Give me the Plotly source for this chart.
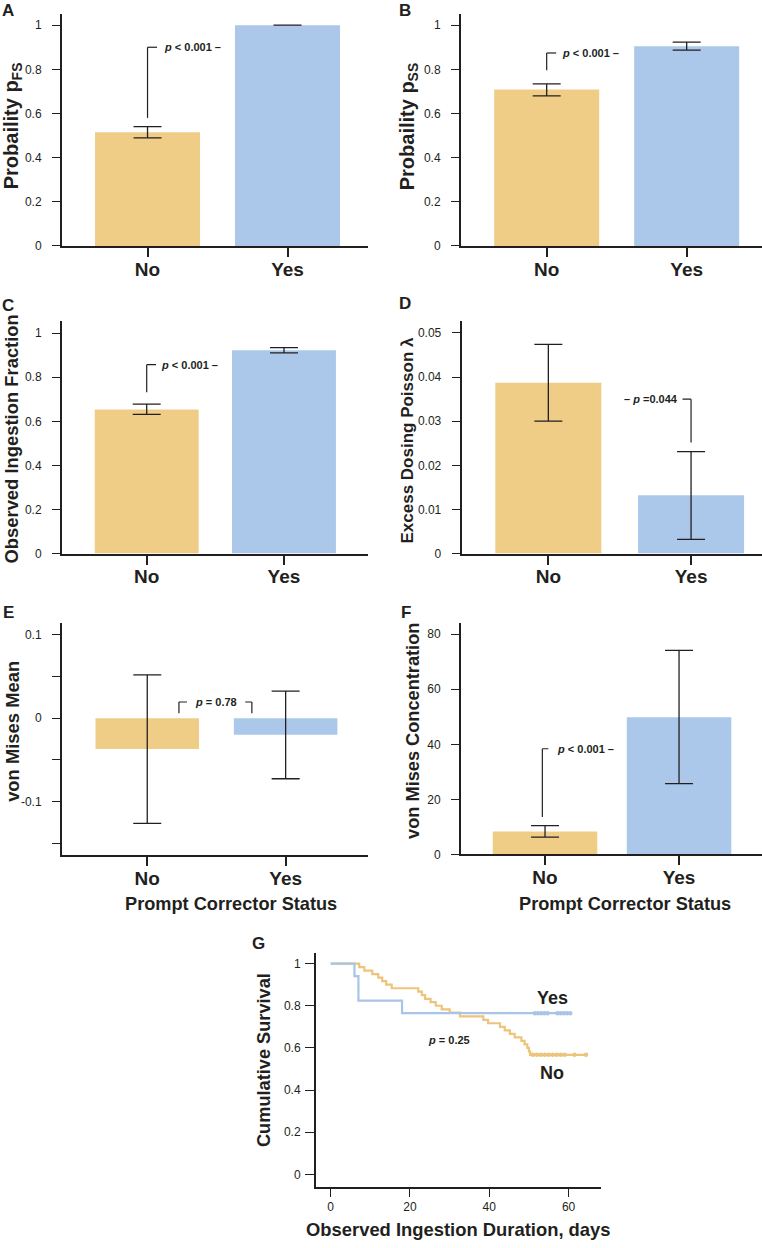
import plotly.graph_objects as go

# ---------------- data ----------------
cats = ["No", "Yes"]

pfs_mean = [0.515, 1.0]
pfs_lo = [0.489, 1.0]
pfs_hi = [0.540, 1.0]

pss_mean = [0.709, 0.904]
pss_lo = [0.680, 0.887]
pss_hi = [0.734, 0.923]

oif_mean = [0.654, 0.923]
oif_lo = [0.632, 0.911]
oif_hi = [0.678, 0.934]

pois_mean = [0.0387, 0.0132]
pois_lo = [0.0300, 0.0032]
pois_hi = [0.0474, 0.0231]

vmm_mean = [-0.0368, -0.0198]
vmm_lo = [-0.126, -0.0725]
vmm_hi = [0.0519, 0.0325]

vmc_mean = [8.3, 49.8]
vmc_lo = [6.3, 25.7]
vmc_hi = [10.5, 74.1]

p_texts = ["p < 0.001", "p < 0.001", "p < 0.001", "p =0.044", "p = 0.78", "p < 0.001", "p = 0.25"]

# Kaplan-Meier (panel G), step points
km_yes_t = [0, 6, 7, 18, 60.4]
km_yes_s = [1.0, 0.941, 0.824, 0.765, 0.765]
km_yes_cens_t = [51.5, 52.3, 53.1, 53.9, 54.7, 57.2, 58.0, 58.8, 59.6, 60.4]
km_yes_cens_s = [0.765] * 10

km_no_t = [0, 7.2, 8.5, 10.5, 12.0, 13.0, 14.0, 15.4, 22.1, 23.0, 23.8, 25.2, 26.5, 28.0,
           30.0, 32.6, 38.5, 39.7, 42.7, 43.9, 45.2, 46.4, 48.1, 48.9, 49.6, 50.0, 50.3, 64.4]
km_no_s = [1.0, 0.983, 0.967, 0.950, 0.933, 0.917, 0.900, 0.883, 0.867, 0.850, 0.833, 0.817,
           0.800, 0.783, 0.767, 0.750, 0.733, 0.717, 0.700, 0.683, 0.667, 0.650, 0.633, 0.617,
           0.600, 0.583, 0.567, 0.567]
km_no_cens_t = [51, 52, 53, 54, 55, 56, 57, 58, 59, 61.5, 64.4]
km_no_cens_s = [0.567] * 11

# ---------------- style ----------------
W, H = 762, 1248
FONT = "Liberation Sans, Arial, Helvetica, sans-serif"
INK = "#231f20"
ORANGE = "#EFCD87"
BLUE = "#ABC7E9"
LINE_OR = "#EDC47C"
LINE_BL = "#A8C4E6"


def fx(p):
    return p / W


def fy(p):
    return 1 - p / H


fig = go.Figure()
layout = dict(
    width=W, height=H, margin=dict(l=0, r=0, t=0, b=0),
    paper_bgcolor="white", plot_bgcolor="white", showlegend=False,
    font=dict(family=FONT, color=INK), hovermode=False,
)
annotations = []
shapes = []

# panel geometry: x px span, y px span (top, bottom), ranges, bar width
bar_panels = [
    dict(mean=pfs_mean, lo=pfs_lo, hi=pfs_hi, xpx=(62, 368), ypx=(14, 247.3),
         yr=[0, 1.051], xr=[-0.611, 1.575], bw=0.75,
         tv=[0, 0.2, 0.4, 0.6, 0.8, 1], tt=["0", "0.2", "0.4", "0.6", "0.8", "1"], minor=None),
    dict(mean=pss_mean, lo=pss_lo, hi=pss_hi, xpx=(461, 762), ypx=(14, 247.3),
         yr=[0, 1.051], xr=[-0.612, 1.538], bw=0.75,
         tv=[0, 0.2, 0.4, 0.6, 0.8, 1], tt=["0", "0.2", "0.4", "0.6", "0.8", "1"], minor=None),
    dict(mean=oif_mean, lo=oif_lo, hi=oif_hi, xpx=(62, 368), ypx=(323.3, 556.7),
         yr=[0, 1.053], xr=[-0.617, 1.612], bw=0.757,
         tv=[0, 0.2, 0.4, 0.6, 0.8, 1], tt=["0", "0.2", "0.4", "0.6", "0.8", "1"], minor=None),
    dict(mean=pois_mean, lo=pois_lo, hi=pois_hi, xpx=(461.7, 762), ypx=(323.3, 556.7),
         yr=[0, 0.0526], xr=[-0.607, 1.497], bw=0.743,
         tv=[0, 0.01, 0.02, 0.03, 0.04, 0.05], tt=["0", "0.01", "0.02", "0.03", "0.04", "0.05"], minor=None),
    dict(mean=vmm_mean, lo=vmm_lo, hi=vmm_hi, xpx=(62, 367.7), ypx=(626.7, 860),
         yr=[-0.164, 0.1138], xr=[-0.616, 1.593], bw=0.748,
         tv=[-0.1, 0, 0.1], tt=["-0.1", "0", "0.1"], minor=0.05),
    dict(mean=vmc_mean, lo=vmc_lo, hi=vmc_hi, xpx=(461, 762), ypx=(626.7, 859.3),
         yr=[0, 84], xr=[-0.627, 1.619], bw=0.78,
         tv=[0, 20, 40, 60, 80], tt=["0", "20", "40", "60", "80"], minor=None),
]

xpos = list(range(len(cats)))

for i, p in enumerate(bar_panels, start=1):
    sfx = "" if i == 1 else str(i)
    fig.add_trace(go.Bar(
        x=xpos, y=p["mean"], width=p["bw"],
        marker=dict(color=[ORANGE, BLUE], line=dict(width=0)),
        error_y=dict(type="data", symmetric=False,
                     array=[h - m for h, m in zip(p["hi"], p["mean"])],
                     arrayminus=[m - l for m, l in zip(p["mean"], p["lo"])],
                     color=INK, thickness=1.3, width=14),
        xaxis="x" + sfx, yaxis="y" + sfx,
    ))
    layout["xaxis" + sfx] = dict(
        domain=[fx(p["xpx"][0]), fx(p["xpx"][1])], anchor="y" + sfx,
        range=p["xr"], tickvals=xpos, ticktext=cats,
        showline=True, linecolor=INK, linewidth=2, ticks="outside", ticklen=9,
        tickwidth=1.6, tickcolor=INK, showgrid=False, zeroline=False,
        tickfont=dict(family=FONT, size=19, color=INK, weight=700),
        ticklabelstandoff=-4, fixedrange=True,
    )
    yax = dict(
        domain=[fy(p["ypx"][1]), fy(p["ypx"][0])], anchor="x" + sfx,
        range=p["yr"], tickvals=p["tv"], ticktext=p["tt"],
        showline=True, linecolor=INK, linewidth=2, ticks="outside", ticklen=8,
        tickwidth=1.4, tickcolor=INK, showgrid=False, zeroline=False,
        tickfont=dict(family=FONT, size=12, color=INK), ticklabelstandoff=8,
        fixedrange=True,
    )
    if p["minor"]:
        yax["minor"] = dict(dtick=p["minor"], tick0=0, ticks="outside", ticklen=8,
                            tickwidth=1.4, tickcolor=INK, showgrid=False)
    layout["yaxis" + sfx] = yax

# ---------------- panel G (Kaplan-Meier) ----------------
g = "7"
fig.add_trace(go.Scatter(x=km_no_t, y=km_no_s, mode="lines", line=dict(color=LINE_OR, width=2.2, shape="hv"),
                         xaxis="x" + g, yaxis="y" + g))
fig.add_trace(go.Scatter(x=km_no_cens_t, y=km_no_cens_s, mode="markers",
                         marker=dict(color=LINE_OR, size=4.5), xaxis="x" + g, yaxis="y" + g))
fig.add_trace(go.Scatter(x=km_yes_t, y=km_yes_s, mode="lines", line=dict(color=LINE_BL, width=2.2, shape="hv"),
                         xaxis="x" + g, yaxis="y" + g))
fig.add_trace(go.Scatter(x=km_yes_cens_t, y=km_yes_cens_s, mode="markers",
                         marker=dict(color=LINE_BL, size=4.5), xaxis="x" + g, yaxis="y" + g))
layout["xaxis" + g] = dict(
    domain=[fx(316), fx(600.7)], anchor="y" + g, range=[-3.7, 68.1],
    tickvals=[0, 20, 40, 60], ticktext=["0", "20", "40", "60"],
    showline=True, linecolor=INK, linewidth=2, ticks="outside", ticklen=8,
    tickwidth=1.4, tickcolor=INK, showgrid=False, zeroline=False,
    tickfont=dict(family=FONT, size=12, color=INK), fixedrange=True,
)
layout["yaxis" + g] = dict(
    domain=[fy(1193.3), fy(958)], anchor="x" + g, range=[-0.058, 1.052],
    tickvals=[0, 0.2, 0.4, 0.6, 0.8, 1], ticktext=["0", "0.2", "0.4", "0.6", "0.8", "1"],
    showline=True, linecolor=INK, linewidth=2, ticks="outside", ticklen=9,
    tickwidth=1.4, tickcolor=INK, showgrid=False, zeroline=False,
    tickfont=dict(family=FONT, size=12, color=INK), ticklabelstandoff=2,
    fixedrange=True,
)


# ---------------- brackets & p-values ----------------
def seg(ax, x0, y0, x1, y1):
    shapes.append(dict(type="line", xref="x" + ax, yref="y" + ax, x0=x0, y0=y0, x1=x1, y1=y1,
                       line=dict(color=INK, width=1.2)))


def ptext(ax, x, y, txt, anchor="left"):
    t = txt.replace("<", "&lt;")
    t = "<b><i>p</i>" + t[1:] + "</b>"
    annotations.append(dict(xref="x" + ax, yref="y" + ax, x=x, y=y, text=t, showarrow=False,
                            xanchor=anchor, yanchor="middle",
                            font=dict(family=FONT, size=11, color=INK)))


# A
seg("", 0, 0.58, 0, 0.90); seg("", 0, 0.90, 0.068, 0.90)
ptext("", 0.10, 0.90, p_texts[0] + " –")
# B
seg("2", 0, 0.796, 0, 0.874); seg("2", 0, 0.874, 0.068, 0.874)
ptext("2", 0.095, 0.874, p_texts[1] + " –")
# C
seg("3", 0, 0.732, 0, 0.857); seg("3", 0, 0.857, 0.068, 0.857)
ptext("3", 0.09, 0.857, p_texts[2] + " –")
# D
seg("4", 1, 0.0252, 1, 0.035); seg("4", 1 - 0.06, 0.035, 1, 0.035)
annotations.append(dict(xref="x4", yref="y4", x=1 - 0.08, y=0.035,
                        text="<b>– <i>p</i> =0.044</b>", showarrow=False, xanchor="right",
                        yanchor="middle", font=dict(family=FONT, size=11, color=INK)))
# E
seg("5", 0.229, 0.006, 0.229, 0.0194); seg("5", 0.229, 0.0194, 0.287, 0.0194)
seg("5", 0.756, 0.006, 0.756, 0.0194); seg("5", 0.708, 0.0194, 0.756, 0.0194)
annotations.append(dict(xref="x5", yref="y5", x=0.495, y=0.0194,
                        text="<b><i>p</i> = 0.78</b>", showarrow=False, xanchor="center",
                        yanchor="middle", font=dict(family=FONT, size=11, color=INK)))
# F
seg("6", -0.02, 13.6, -0.02, 38.4); seg("6", -0.02, 38.4, 0.025, 38.4)
ptext("6", 0.075, 38.4, p_texts[5] + " –")
# G
annotations.append(dict(xref="x7", yref="y7", x=29.8, y=0.638, text="<b><i>p</i> = 0.25</b>",
                        showarrow=False, xanchor="center", yanchor="middle",
                        font=dict(family=FONT, size=11, color=INK)))
annotations.append(dict(xref="x7", yref="y7", x=56, y=0.835, text="<b>Yes</b>", showarrow=False,
                        xanchor="center", yanchor="middle", font=dict(family=FONT, size=18, color=INK)))
annotations.append(dict(xref="x7", yref="y7", x=55.8, y=0.481, text="<b>No</b>", showarrow=False,
                        xanchor="center", yanchor="middle", font=dict(family=FONT, size=18, color=INK)))


# ---------------- titles & panel letters ----------------
def ptxt(cx, cy, text, size, angle=0):
    annotations.append(dict(xref="paper", yref="paper", x=fx(cx), y=fy(cy), text=text,
                            showarrow=False, xanchor="center", yanchor="middle", textangle=angle,
                            font=dict(family=FONT, size=size, color=INK)))


ptxt(12, 127, "<b>Probaility p<sub>FS</sub></b>", 20, -90)
ptxt(408, 127, "<b>Probaility p<sub>SS</sub></b>", 20, -90)
ptxt(12, 442, "<b>Observed Ingestion Fraction</b>", 18.4, -90)
ptxt(408, 443, "<b>Excess Dosing Poisson λ</b>", 17, -90)
ptxt(13, 736, "<b>von Mises Mean</b>", 18.4, -90)
ptxt(413, 735, "<b>von Mises Concentration</b>", 18.2, -90)
ptxt(264, 1066, "<b>Cumulative Survival</b>", 18.2, -90)

ptxt(231, 909, "<b>Prompt Corrector Status</b>", 18.2)
ptxt(625, 909, "<b>Prompt Corrector Status</b>", 18.2)
ptxt(458, 1236, "<b>Observed Ingestion Duration, days</b>", 18.4)

for letter, cx, cy in [("A", 8, 11), ("B", 405, 11), ("C", 8, 307), ("D", 405, 305),
                       ("E", 8, 616), ("F", 406, 616), ("G", 258, 949)]:
    ptxt(cx, cy, "<b>" + letter + "</b>", 17)

layout["annotations"] = annotations
layout["shapes"] = shapes
fig.update_layout(**layout)
fig.write_html("out.html", config={"displayModeBar": False},
               post_script="document.body.style.margin='0px';")
